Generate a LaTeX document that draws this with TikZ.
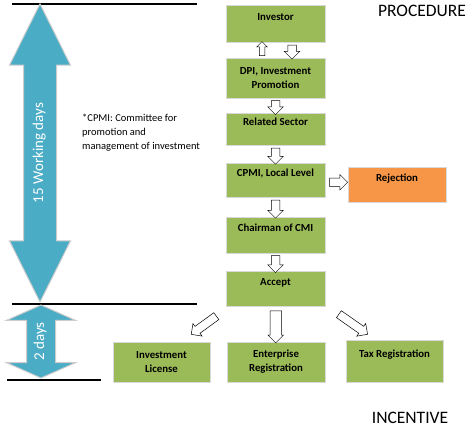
\documentclass[tikz,border=0pt]{standalone}
\usepackage{fontspec}
\setmainfont{Carlito}
\usetikzlibrary{shapes.arrows,shadows,calc}
\definecolor{stepgreen}{HTML}{9BBB59}
\definecolor{rejorange}{HTML}{F79646}
\definecolor{daysblue}{HTML}{4BACC6}
\tikzset{
  stepbox/.style={rectangle, fill=stepgreen, draw=white!85!black, line width=1pt,
    minimum width=99pt, align=center, font=\fontsize{10.8}{14}\selectfont\bfseries,
    drop shadow={shadow xshift=1.2pt, shadow yshift=-1.2pt, fill=black!40}},
  hollow/.style={single arrow, draw, fill=white, line width=.5pt, inner xsep=0pt, inner ysep=4pt,
    single arrow head extend=3.5pt, single arrow head indent=0pt},
  days/.style={double arrow, fill=daysblue, draw=black!20, line width=1pt, inner xsep=0pt,
    text height=9pt, text depth=3pt, text=white, font=\fontsize{15}{17}\selectfont,
    double arrow head indent=0pt}
}
\begin{document}
\begin{tikzpicture}[x=1pt,y=-1pt]
\useasboundingbox (0,0) rectangle (476,429);
% time scale
\draw[line width=1.3pt] (12,4) -- (197,4);
\draw[line width=1.3pt] (12,304) -- (197,304);
\draw[line width=1.3pt] (7,380) -- (101,380);
\node[days, rotate=90, minimum height=298pt, inner ysep=10pt,
  double arrow head extend=14pt, double arrow tip angle=53] (fifteen) at (40,153) {15 Working days};
\node[days, rotate=90, minimum height=73pt, inner ysep=8pt,
  double arrow head extend=20pt, double arrow tip angle=132] (two) at (41,341.5) {2 days};
\node[align=left, anchor=north west, inner sep=0pt, font=\fontsize{10.5}{14}\selectfont] (note) at (82,114)
  {*CPMI: Committee for\\promotion and\\management of investment};
\node[font=\fontsize{17.5}{19}\selectfont] (proc) at (422,11) {PROCEDURE};
\node[font=\fontsize{17.5}{19}\selectfont] (inc) at (410,418) {INCENTIVE};
% steps
\node[stepbox, minimum height=37pt] (inv) at (275.5,23.5) {Investor\\\mbox{}};
\node[stepbox, minimum height=40pt] (dpi) at (275.5,78) {DPI, Investment\\Promotion};
\node[stepbox, minimum height=32pt] (sec) at (275.5,129) {Related Sector\\\mbox{}};
\node[stepbox, minimum height=34pt] (cpmi) at (275.5,180) {CPMI, Local Level\\\mbox{}};
\node[stepbox, minimum height=35pt, fill=rejorange, minimum width=98pt] (rej) at (397,184.5) {Rejection\\\mbox{}};
\node[stepbox, minimum height=36pt] (chair) at (275.5,235) {Chairman of CMI\\\mbox{}};
\node[stepbox, minimum height=35pt] (acc) at (275.5,288.5) {Accept\\\mbox{}};
\node[stepbox, minimum height=40pt, minimum width=97pt] (lic) at (161.5,362) {Investment\\License};
\node[stepbox, minimum height=40pt, minimum width=98pt] (ent) at (276,362) {Enterprise\\Registration};
\node[stepbox, minimum height=42pt, minimum width=97pt] (tax) at (394.5,361) {Tax Registration\\\mbox{}};
% flow
\node[hollow, rotate=90, minimum height=14pt, inner ysep=2.5pt, single arrow head extend=2.5pt]
  (up) at ($(inv.south)!.5!(dpi.north)+(-13.5,0)$) {};
\node[hollow, rotate=-90, minimum height=14pt] (down) at ($(inv.south)!.5!(dpi.north)+(16.5,0)$) {};
\node[hollow, rotate=-90, minimum height=14pt] at ($(dpi.south)!.5!(sec.north)$) {};
\node[hollow, rotate=-90, minimum height=16pt] at ($(sec.south)!.5!(cpmi.north)$) {};
\node[hollow, minimum height=18pt] at ($(cpmi.east)!.5!(rej.west)$) {};
\node[hollow, rotate=-90, minimum height=18pt] at ($(cpmi.south)!.5!(chair.north)$) {};
\node[hollow, rotate=-90, minimum height=17pt] at ($(chair.south)!.5!(acc.north)$) {};
\node[hollow, rotate=-90, minimum height=32pt, inner ysep=5.5pt, single arrow head extend=2pt]
  at ($(acc.south)!.5!(ent.north)$) {};
\node[hollow, rotate=216, minimum height=31pt] at (205.5,324) {};
\node[hollow, rotate=-35, minimum height=35pt] at (351.5,323) {};
\end{tikzpicture}
\end{document}
